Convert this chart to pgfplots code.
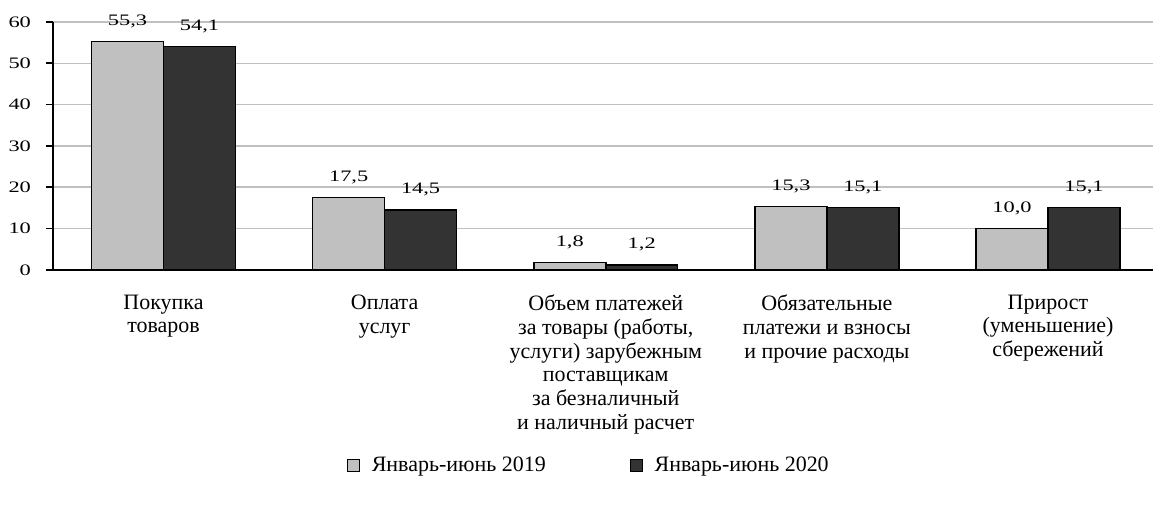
\documentclass[border=0pt]{standalone}
\usepackage{fontspec}
\setmainfont{Liberation Serif}
\newfontfamily\numfam[FakeStretch=1.4]{Liberation Serif}
\usepackage{pgfplots}
\pgfplotsset{compat=1.18}
\definecolor{light}{HTML}{C0C0C0}
\definecolor{dark}{HTML}{333333}
\definecolor{gridc}{HTML}{C0C0C0}
\newcommand{\catfont}{\fontsize{11}{11.9}\selectfont}
\newcommand{\numfont}{\numfam\fontsize{8}{9}\selectfont}
\begin{document}
\begin{tikzpicture}
\begin{axis}[scale only axis,width=550.5pt,height=124pt,
  xmin=-0.5,xmax=4.475,ymin=0,ymax=60,
  axis lines*=left,axis line style={line width=1pt},
  ybar=0pt,bar width=36pt,
  ytick={0,10,...,60},ymajorgrids,grid style={gridc,line width=0.7pt},
  tick align=outside,major tick length=3.5pt,tick style={black,line width=0.8pt},
  yticklabel style={font=\numfont,xshift=-4pt},
  /pgf/number format/assume math mode=true,
  xtick={0,1,2,3,4},xtick style={draw=none},
  xticklabels={{Покупка\\товаров},{Оплата\\услуг},{Объем платежей\\за товары (работы,\\услуги) зарубежным\\поставщикам\\за безналичный\\и наличный расчет},{Обязательные\\платежи и взносы\\и прочие расходы},{Прирост\\(уменьшение)\\сбережений}},
  xticklabel style={font=\catfont,align=center,anchor=north,yshift=-5.5pt},
  extra x ticks={-0.5,0.5,1.5,2.5,3.5},extra x tick labels={},
  extra x tick style={tick style={draw=black,line width=0.8pt}},
  nodes near coords={\pgfmathprintnumber[fixed,fixed zerofill,precision=1,use comma,assume math mode=true]{\pgfplotspointmeta}},
  every node near coord/.append style={font=\numfont,anchor=base,inner sep=0pt,yshift=8pt,black},
  legend columns=2,
  legend style={draw=none,at={(0.488,-0.79)},anchor=center,font=\catfont,
    /tikz/every odd column/.append style={column sep=4pt},
    /tikz/every even column/.append style={column sep=40pt}},
  legend image code/.code={\draw[#1,draw=black,line width=0.5pt] (0pt,-3pt) rectangle (6pt,3pt);},
]
\addplot[fill=light,draw=black,line width=0.8pt] coordinates {(0,55.3) (1,17.5) (2,1.8) (3,15.3) (4,10.0)};
\addplot[fill=dark,draw=black,line width=0.8pt] coordinates {(0,54.1) (1,14.5) (2,1.2) (3,15.1) (4,15.1)};
\legend{Январь-июнь 2019,Январь-июнь 2020}
\end{axis}
\path (-26.5pt,-117.5pt) rectangle (550.5pt,135pt);
\end{tikzpicture}
\end{document}
